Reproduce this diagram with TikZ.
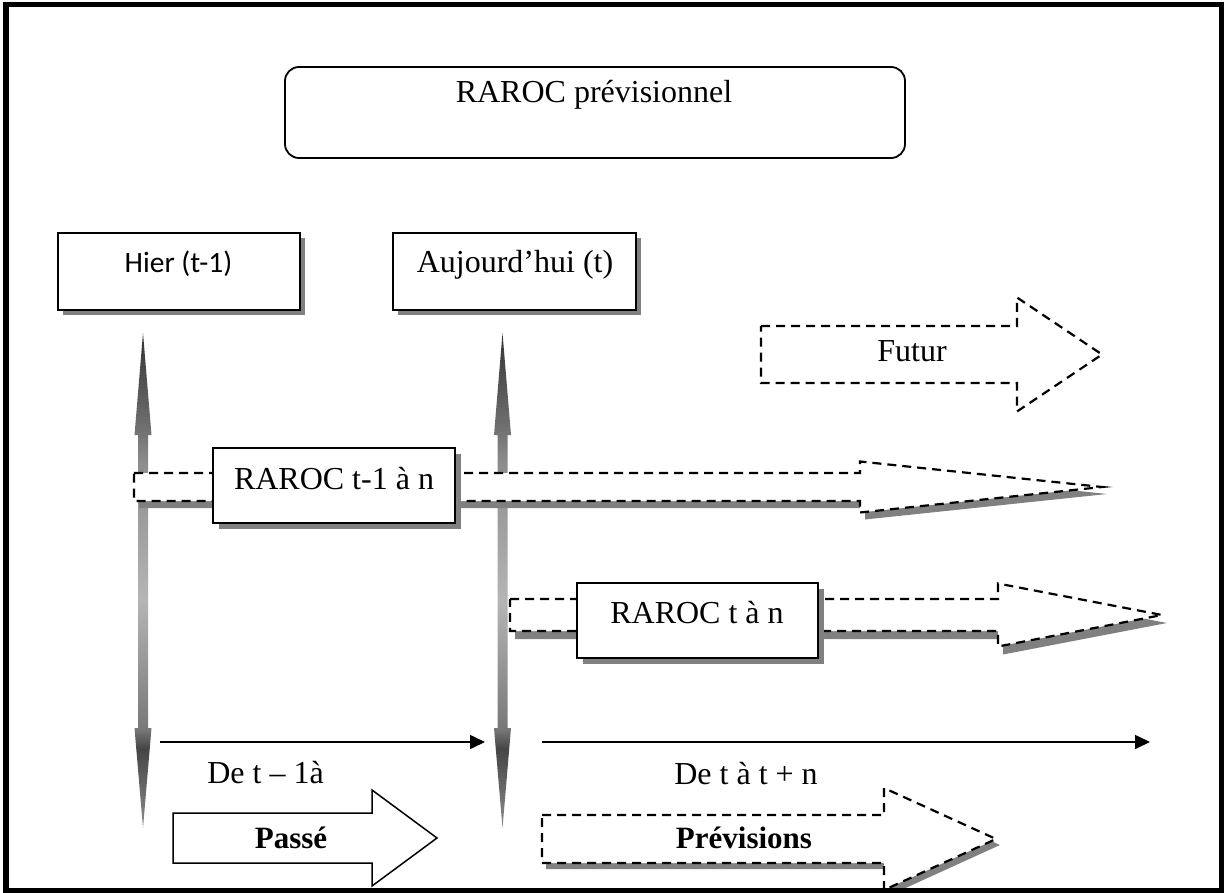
\documentclass[tikz,border=0pt]{standalone}
\usepackage{fontspec}
\setmainfont{Liberation Serif}
\newfontfamily\calib{Carlito}
\usetikzlibrary{arrows.meta,shadows}
\definecolor{shadowgray}{HTML}{808080}
\definecolor{vgA}{gray}{0.55}
\definecolor{vgB}{gray}{0.27}
\definecolor{vgC}{gray}{0.47}
\definecolor{vgD}{gray}{0.71}
\definecolor{vgE}{gray}{0.55}
\definecolor{vgF}{gray}{0.45}
\definecolor{vgG}{gray}{0.20}
\pgfdeclareverticalshading{vshade}{100bp}{color(0bp)=(vgA); color(25bp)=(vgA); color(33bp)=(vgB); color(35bp)=(vgC); color(48bp)=(vgD); color(62bp)=(vgE); color(65bp)=(vgF); color(75bp)=(vgG); color(100bp)=(vgG)}
\newcommand\vertarrow[1]{%
  \shade[shading=vshade] (#1,333) -- ({#1+8.5},435) -- ({#1+5},435) -- ({#1+5},728) -- ({#1+8.5},728) -- (#1,828) -- ({#1-8.5},728) -- ({#1-5},728) -- ({#1-5},435) -- ({#1-8.5},435) -- cycle;}
% x0, xbase, xtip, ymid, half body, half head
\newcommand\blkpath[6]{(#1,{#4-#5}) -- (#2,{#4-#5}) -- (#2,{#4-#6}) -- (#3,#4) -- (#2,{#4+#6}) -- (#2,{#4+#5}) -- (#1,{#4+#5}) -- cycle}
\tikzset{
  framest/.style={draw=black, line width=5.5pt},
  boxst/.style={draw=black, line width=1.8pt, fill=white, inner sep=0pt,
    drop shadow={shadow xshift=5pt, shadow yshift=-5pt, fill=shadowgray, opacity=1}},
  boxstb/.style={draw=black, line width=1.8pt, fill=white, inner sep=0pt,
    drop shadow={shadow xshift=6pt, shadow yshift=-6pt, fill=shadowgray, opacity=1}},
  titlest/.style={draw=black, line width=1.8pt, rounded corners=14pt, fill=white, inner sep=0pt},
  lbl/.style={inner sep=0pt, anchor=base, font=\fontsize{32}{38}\selectfont},
  dashst/.style={draw=black, line width=2.2pt, dash pattern=on 9pt off 6pt, fill=white},
  solidarr/.style={draw=black, line width=1.5pt, fill=white},
  shadowst/.style={fill=shadowgray, draw=none},
  thinarrow/.style={line width=1.6pt, -{Triangle[length=15pt,width=14pt]}},
}
\begin{document}
\begin{tikzpicture}[x=1pt,y=-1pt]
\fill[white] (0,0) rectangle (1224,893);
\useasboundingbox (0,0) rectangle (1224,893);

% vertical double arrows
\vertarrow{143}
\vertarrow{502.5}

% RAROC t-1 a n band
\fill[shadowst, shift={(5,7)}] \blkpath{134}{860}{1102}{487}{14}{25.5};
\path[dashst] \blkpath{134}{860}{1102}{487}{14}{25.5};

% RAROC t a n band
\fill[shadowst, shift={(5,8)}] \blkpath{510}{998}{1162}{615}{16}{31.5};
\path[dashst] \blkpath{510}{998}{1162}{615}{16}{31.5};

% Futur
\path[dashst] \blkpath{761}{1017}{1102}{354.5}{28.5}{57};

% Passe
\path[solidarr] \blkpath{173}{372}{437}{838}{25}{48};

% Previsions
\fill[shadowst, shift={(4,6)}] \blkpath{542}{884}{996}{839}{24}{51};
\path[dashst] \blkpath{542}{884}{996}{839}{24}{51};

% thin arrows
\coordinate (a1s) at (160,742);
\coordinate (a1e) at (485,742);
\coordinate (a2s) at (542,742);
\coordinate (a2e) at (1150,742);
\draw[thinarrow] (a1s) -- (a1e);
\draw[thinarrow] (a2s) -- (a2e);

% boxes
\node[titlest, minimum width=620pt, minimum height=91pt] (title) at (595,112.5) {};
\node[boxst, minimum width=242pt, minimum height=77pt] (hier) at (179,271.5) {};
\node[boxst, minimum width=243pt, minimum height=77pt] (auj) at (514.5,271.5) {};
\node[boxstb, minimum width=242pt, minimum height=75pt] (rtm1) at (334,485.5) {};
\node[boxstb, minimum width=241pt, minimum height=75pt] (rt) at (697.5,620.5) {};

% texts
\node[lbl] (titletxt) at (594,103) {RAROC prévisionnel};
\node[lbl, font=\calib\fontsize{29.5}{35}\selectfont] (hiertxt) at (178.5,273) {Hier (t-1)};
\node[lbl] (aujtxt) at (515,273) {Aujourd’hui (t)};
\node[lbl] (rtm1txt) at (334,489) {RAROC t-1 à n};
\node[lbl] (rttxt) at (697,623) {RAROC t à n};
\node[lbl] (futtxt) at (912,362) {Futur};
\node[lbl] (de1) at (265.5,783) {De t – 1à};
\node[lbl] (de2) at (746,784) {De t à t + n};
\node[lbl, font=\fontsize{31}{36}\selectfont\bfseries] (passe) at (291,848) {Passé};
\node[lbl, font=\fontsize{31}{36}\selectfont\bfseries] (prev) at (744,848) {Prévisions};

% outer frame
\draw[framest] (6,4.5) rectangle (1221.5,890.5);
\end{tikzpicture}
\end{document}
